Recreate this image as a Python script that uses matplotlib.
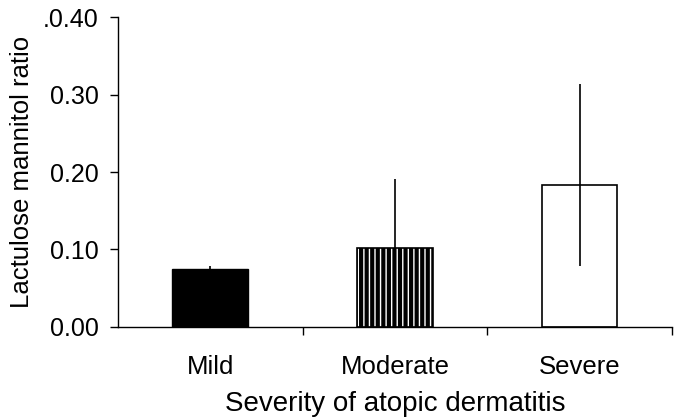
import matplotlib.pyplot as plt
from matplotlib.ticker import FixedLocator, FixedFormatter

plt.rcParams['font.family'] = ['Liberation Sans', 'DejaVu Sans']

# Data
categories = ['Mild', 'Moderate', 'Severe']
ratio_mean = [0.075, 0.102, 0.183]
err_low = [0.0, 0.0, 0.105]
err_high = [0.004, 0.089, 0.131]
yticks = [0.0, 0.1, 0.2, 0.3, 0.4]
ytick_labels = ['0.00', '0.10', '0.20', '0.30', '.0.40']

fig = plt.figure(figsize=(6.78, 4.18), dpi=100)
ax = fig.add_axes([0.174, 0.218, 0.817, 0.741])

x = range(len(categories))
w = 0.41

# Mild: solid black
ax.bar(0, ratio_mean[0], width=w, color='black', edgecolor='black', linewidth=1, zorder=2)
# Moderate: black with thin white vertical stripes
plt.rcParams['hatch.linewidth'] = 1.0
ax.bar(1, ratio_mean[1], width=w, color='black', edgecolor='white', hatch='|||',
       linewidth=0, zorder=2)
ax.bar(1, ratio_mean[1], width=w, fill=False, edgecolor='black', linewidth=1.2, zorder=3)
# Severe: white
ax.bar(2, ratio_mean[2], width=w, color='white', edgecolor='black', linewidth=1.2, zorder=2)

ax.errorbar(list(x), ratio_mean, yerr=[err_low, err_high], fmt='none', ecolor='black',
            elinewidth=1.2, capsize=0, zorder=4)

ax.set_xlim(-0.5, 2.5)
ax.set_ylim(0, 0.4)
ax.yaxis.set_major_locator(FixedLocator(yticks))
ax.yaxis.set_major_formatter(FixedFormatter(ytick_labels))
ax.set_xticks([0.5, 1.5, 2.5])
ax.set_xticklabels([])
ax.set_xticks(list(x), minor=True)
ax.set_xticklabels(categories, minor=True)
ax.tick_params(axis='x', which='minor', length=0, pad=20, labelsize=18.5)
ax.tick_params(axis='x', which='major', length=6, width=1, direction='out')
ax.tick_params(axis='y', length=6, width=1, direction='out', pad=8, labelsize=18)

for s in ['top', 'right']:
    ax.spines[s].set_visible(False)
for s in ['left', 'bottom']:
    ax.spines[s].set_linewidth(1)

ax.set_ylabel('Lactulose mannitol ratio', fontsize=18.5, labelpad=6)
ax.set_xlabel('Severity of atopic dermatitis', fontsize=20, labelpad=9)

fig.savefig('out.png', dpi=100)
